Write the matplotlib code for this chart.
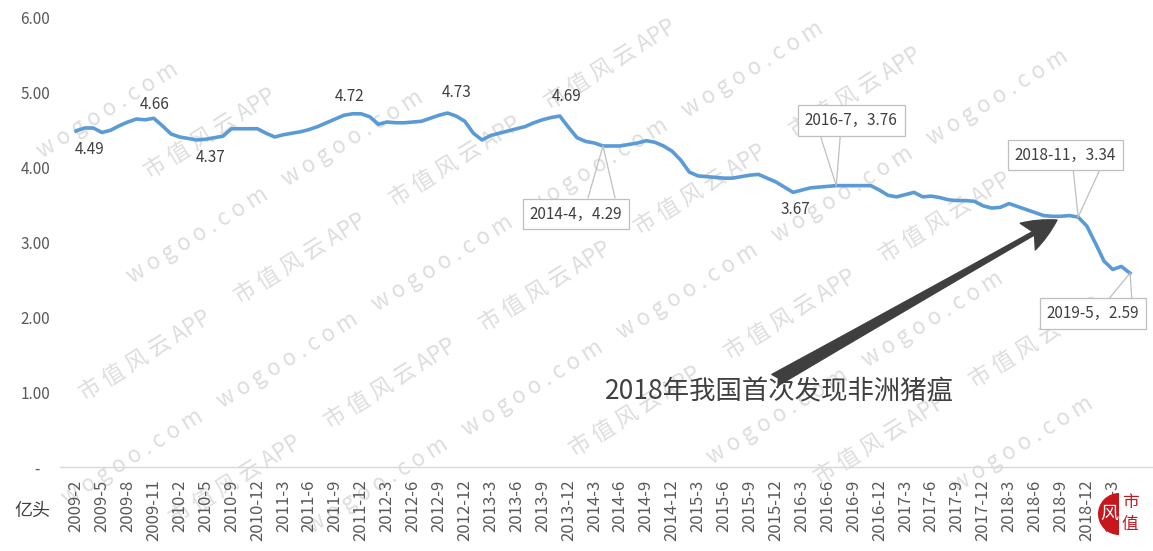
import matplotlib
matplotlib.use("Agg")
import matplotlib.pyplot as plt
from matplotlib.patches import Wedge
import numpy as np

plt.rcParams['font.family'] = ['Noto Sans CJK SC', 'DejaVu Sans']

# ==========================================
# DATA: 生猪存栏（亿头），2009-2 ~ 2019-5，月度
# ==========================================
tick_labels = [
    '2009-2', '2009-5', '2009-8', '2009-11', '2010-2', '2010-5', '2010-9', '2010-12',
    '2011-3', '2011-6', '2011-9', '2011-12', '2012-3', '2012-6', '2012-9', '2012-12',
    '2013-3', '2013-6', '2013-9', '2013-12', '2014-3', '2014-6', '2014-9', '2014-12',
    '2015-3', '2015-6', '2015-9', '2015-12', '2016-3', '2016-6', '2016-9', '2016-12',
    '2017-3', '2017-6', '2017-9', '2017-12', '2018-3', '2018-6', '2018-9', '2018-12',
    '2019-3',
]

stock = [
    # 2009-2 .. 2010-12
    4.49, 4.53, 4.53, 4.47, 4.50, 4.56, 4.61, 4.65, 4.64, 4.66, 4.56, 4.45,
    4.41, 4.39, 4.37, 4.38, 4.40, 4.42, 4.52, 4.52, 4.52, 4.52, 4.46, 4.41,
    # 2011-1 .. 2013-1
    4.44, 4.46, 4.48, 4.51, 4.55, 4.60, 4.65, 4.70, 4.72, 4.72, 4.68, 4.58,
    4.61, 4.60, 4.60, 4.61, 4.62, 4.66, 4.70, 4.73, 4.69, 4.62, 4.46, 4.37, 4.43,
    # 2013-2 .. 2015-2
    4.46, 4.49, 4.52, 4.55, 4.60, 4.64, 4.67, 4.69, 4.54, 4.40, 4.35, 4.33,
    4.29, 4.29, 4.29, 4.31, 4.33, 4.36, 4.34, 4.29, 4.22, 4.10, 3.94, 3.89, 3.88,
    # 2015-3 .. 2017-3
    3.87, 3.86, 3.86, 3.88, 3.90, 3.91, 3.86, 3.81, 3.74, 3.67, 3.70, 3.73,
    3.74, 3.75, 3.76, 3.76, 3.76, 3.76, 3.76, 3.70, 3.63, 3.61, 3.64, 3.67, 3.61,
    # 2017-4 .. 2019-5
    3.62, 3.60, 3.57, 3.56, 3.56, 3.55, 3.49, 3.46, 3.47, 3.52, 3.48, 3.44,
    3.40, 3.36, 3.35, 3.35, 3.36, 3.34, 3.22, 2.99, 2.75, 2.64, 2.68, 2.59,
]

y_ticks = [0, 1, 2, 3, 4, 5, 6]
y_tick_labels = ['-   ', '1.00', '2.00', '3.00', '4.00', '5.00', '6.00']

# 普通数据标签: (点序号, 文本, 像素偏移)
plain_labels = [
    (0, '4.49', (14, -19)),
    (9, '4.66', (1, 14)),
    (14, '4.37', (14, -18)),
    (32, '4.72', (-3, 17)),
    (43, '4.73', (9, 21)),
    (56, '4.69', (7, 20)),
    (83, '3.67', (2, -17)),
]

# 带框标注: (点序号, 文本, 框中心偏移, 引线1起点, 引线2起点)
box_labels = [
    (61, '2014-4，4.29', (-27, -68), (-15, -52), (12, -52)),
    (88, '2016-7，3.76', (15, 65), (-16, 50), (4, 50)),
    (116, '2018-11，3.34', (-13, 62), (-5, 48), (22, 48)),
    (122, '2019-5，2.59', (-37, -40), (-23, -28), (2, -28)),
]

note_text = '2018年我国首次发现非洲猪瘟'
unit_text = '亿头'
wm_texts = ['市 值 风 云 APP', 'w o g o o . c o m']

line_color = '#5B9BD5'
text_color = '#404040'
tick_color = '#595959'
box_color = '#BFBFBF'
wm_color = '#DDDDDD'

# ==========================================
# PLOT
# ==========================================
W, H = 1153, 551
fig = plt.figure(figsize=(W / 100, H / 100), dpi=100)
ax = fig.add_axes([60 / W, 84 / H, 1093 / W, 449 / H])
ax.patch.set_alpha(0)

# 水印（平铺，只保留完整落在图内的）
r = np.array([245, 28])
d = np.array([155, -97])
p0 = np.array([700, 190])
for m in range(-8, 9):
    for n in range(-8, 9):
        for k, txt in enumerate(wm_texts):
            p = p0 + m * r + n * d + k * (r / 2 + np.array([20, -10]))
            if 68 < p[0] < W - 68 and 44 < p[1] < H - 44:
                fig.text(p[0] / W, 1 - p[1] / H, txt, ha='center', va='center',
                         rotation=32, fontsize=16, color=wm_color, zorder=-5)

x = np.arange(len(stock))
ax.plot(x, stock, color=line_color, lw=2.6, solid_joinstyle='round', zorder=3)

px = 8.64  # 每个类别的像素宽度
ax.set_xlim(-16 / px, len(stock) - 1 + 23 / px)
ax.set_ylim(0, 6)

ax.set_xticks(x[::3])
ax.set_xticklabels(tick_labels, rotation=90, fontsize=12, color=tick_color)
ax.set_yticks(y_ticks)
ax.set_yticklabels(y_tick_labels, fontsize=11, color=tick_color)
ax.tick_params(axis='both', length=0)
ax.tick_params(axis='x', pad=9)
ax.tick_params(axis='y', pad=7)

for s in ['top', 'right', 'left']:
    ax.spines[s].set_visible(False)
ax.spines['bottom'].set_color('#D9D9D9')
ax.spines['bottom'].set_linewidth(1.0)

for i, txt, off in plain_labels:
    ax.annotate(txt, xy=(i, stock[i]), xytext=off, textcoords='offset pixels',
                ha='center', va='center', fontsize=11, color=text_color, zorder=5)

for i, txt, off, la, lb in box_labels:
    for leg in (la, lb):
        ax.annotate('', xy=(i, stock[i]), xytext=leg, textcoords='offset pixels',
                    arrowprops=dict(arrowstyle='-', color=box_color, lw=0.9,
                                    shrinkA=0, shrinkB=0), zorder=4)
    ax.annotate(txt, xy=(i, stock[i]), xytext=off, textcoords='offset pixels',
                ha='center', va='center', fontsize=11, color=text_color, zorder=6,
                bbox=dict(boxstyle='square,pad=0.45', fc='white', ec=box_color, lw=0.9))

# 大箭头 + 说明文字
ax.annotate('', xy=(1057, H - 220), xycoords='figure pixels',
            xytext=(775, H - 380), textcoords='figure pixels',
            arrowprops=dict(arrowstyle='fancy,head_length=1.1,head_width=1.0,tail_width=0.42',
                            fc='#3F3F3F', ec='#3F3F3F', mutation_scale=22,
                            shrinkA=0, shrinkB=0), zorder=7)
fig.text(779 / W, 1 - 392 / H, note_text, ha='center', va='center',
         fontsize=19, color=text_color, zorder=8)

fig.text(32 / W, 1 - 511 / H, unit_text, ha='center', va='center',
         fontsize=13, color=text_color)

# 右下角标识
fig.patches.append(Wedge((1119 / 100, (H - 514) / 100), 0.21, 90, 270,
                         transform=fig.dpi_scale_trans, fc='#C8161D', ec='none'))
fig.text(1109 / W, 1 - 514 / H, '风', ha='center', va='center', fontsize=13,
         color='white', fontstyle='italic')
fig.text(1130 / W, 1 - 503 / H, '市', ha='center', va='center', fontsize=12, color='#C8161D')
fig.text(1130 / W, 1 - 525 / H, '值', ha='center', va='center', fontsize=12, color='#C8161D')

fig.savefig('out.png', dpi=100, facecolor='white')
